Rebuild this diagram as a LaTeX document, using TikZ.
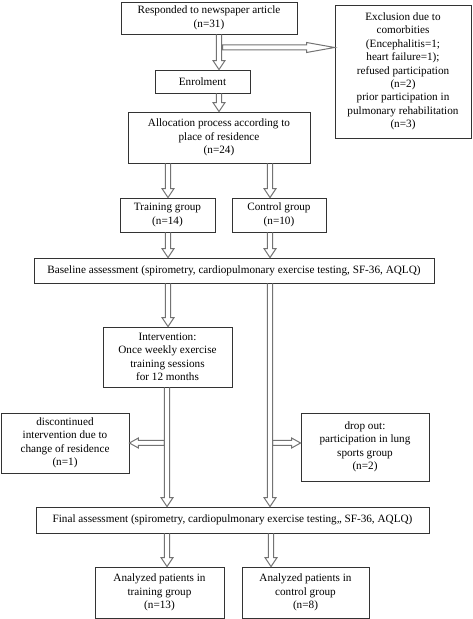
\documentclass[tikz,border=0pt]{standalone}
\usepackage{fontspec}
\setmainfont{Liberation Serif}
\usetikzlibrary{calc}

\newcommand{\vblock}[3]{%
  \draw[hollow] let \p1=(#2.south), \p2=(#3.north) in
    (#1pt-2.7pt,\y1) -- (#1pt-2.7pt,\y2+9pt) -- (#1pt-6pt,\y2+9pt) -- (#1pt,\y2)
    -- (#1pt+6pt,\y2+9pt) -- (#1pt+2.7pt,\y2+9pt) -- (#1pt+2.7pt,\y1);}
\newcommand{\hright}[4]{%
  \draw[hollow] let \p1=(#1), \p2=(#2.west) in
    (\x1,\y1-2.5pt) -- (\x2-#4pt,\y1-2.5pt) -- (\x2-#4pt,\y1-#3pt) -- (\x2,\y1)
    -- (\x2-#4pt,\y1+#3pt) -- (\x2-#4pt,\y1+2.5pt) -- (\x1,\y1+2.5pt) -- cycle;}
\newcommand{\hleft}[4]{%
  \draw[hollow] let \p1=(#1), \p2=(#2.east) in
    (\x1,\y1-2.5pt) -- (\x2+#4pt,\y1-2.5pt) -- (\x2+#4pt,\y1-#3pt) -- (\x2,\y1)
    -- (\x2+#4pt,\y1+#3pt) -- (\x2+#4pt,\y1+2.5pt) -- (\x1,\y1+2.5pt) -- cycle;}

\begin{document}
\begin{tikzpicture}[x=1pt, y=1pt,
  box/.style={draw=black!80, line width=0.8pt, align=center, inner sep=2pt,
    font=\fontsize{11.2}{13.4}\selectfont},
  hollow/.style={draw=black!55, line width=1pt, line join=miter}]
  \useasboundingbox (0,0) rectangle (473,619);
  \node[box, minimum width=176pt, minimum height=32pt] (resp) at (209,601) {Responded to newspaper article\\(n=31)};
  \node[box, minimum width=136pt, minimum height=133pt] (excl) at (403,547.5) {Exclusion due to\\comorbities\\(Encephalitis=1;\\heart failure=1);\\refused participation\\(n=2)\\prior participation in\\pulmonary rehabilitation\\(n=3)};
  \node[box, minimum width=95pt, minimum height=23pt] (enrol) at (202.5,537.5) {Enrolment};
  \node[box, minimum width=182pt, minimum height=51pt] (alloc) at (219,481.5) {Allocation process according to\\place of residence\\(n=24)};
  \node[box, minimum width=95pt, minimum height=34pt] (train) at (167.5,404) {Training group\\(n=14)};
  \node[box, minimum width=94pt, minimum height=34pt] (ctrl) at (279,404) {Control group\\(n=10)};
  \node[box, minimum width=400pt, minimum height=25pt] (base) at (234,348.5) {Baseline assessment (spirometry, cardiopulmonary exercise testing, SF-36, AQLQ)};
  \node[box, minimum width=129pt, minimum height=60pt] (interv) at (167.5,262) {Intervention:\\Once weekly exercise\\training sessions\\for 12 months};
  \node[box, minimum width=128pt, minimum height=60pt] (disc) at (65,176) {discontinued\\intervention due to\\change of residence\\(n=1)};
  \node[box, minimum width=128pt, minimum height=68pt] (drop) at (365,172) {drop out:\\participation in lung\\sports group\\(n=2)};
  \node[box, minimum width=393pt, minimum height=26pt] (final) at (232.5,99) {Final assessment (spirometry, cardiopulmonary exercise testing,, SF-36, AQLQ)};
  \node[box, minimum width=129pt, minimum height=51pt] (antr) at (159.5,26.5) {Analyzed patients in\\training group\\(n=13)};
  \node[box, minimum width=127pt, minimum height=51pt] (anctl) at (305.5,26.5) {Analyzed patients in\\control group\\(n=8)};
  \coordinate (exs) at (222.5,571.5);
  \coordinate (dcs) at (164.3,176);
  \coordinate (dps) at (272.7,176);
  \vblock{219}{resp}{enrol}
  \vblock{219}{enrol}{alloc}
  \vblock{168}{alloc}{train}
  \vblock{270}{alloc}{ctrl}
  \vblock{168}{train}{base}
  \vblock{270}{ctrl}{base}
  \vblock{168}{base}{interv}
  \vblock{270}{base}{final}
  \vblock{167}{interv}{final}
  \vblock{167}{final}{antr}
  \vblock{271}{final}{anctl}
  \hright{exs}{excl}{5}{28}
  \hleft{dcs}{disc}{5}{9}
  \hright{dps}{drop}{5}{9}
\end{tikzpicture}
\end{document}
